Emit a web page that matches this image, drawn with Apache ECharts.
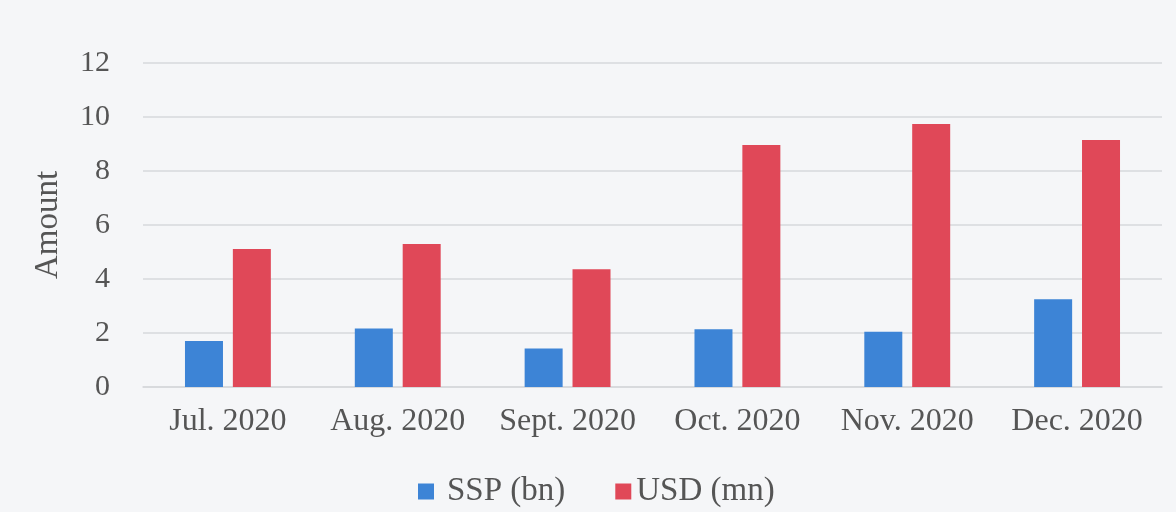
<!DOCTYPE html>
<html>
<head>
<meta charset="utf-8">
<script src="https://cdn.jsdelivr.net/npm/echarts@6/dist/echarts.min.js"></script>
<style>
html,body{margin:0;padding:0;background:#f5f6f8;}
#c{width:1176px;height:512px;}
</style>
</head>
<body>
<div id="c"></div>
<script>
const categories = ['Jul. 2020', 'Aug. 2020', 'Sept. 2020', 'Oct. 2020', 'Nov. 2020', 'Dec. 2020'];
const sspValues = [1.70, 2.17, 1.43, 2.14, 2.05, 3.25];
const usdValues = [5.11, 5.30, 4.36, 8.96, 9.74, 9.15];
const seriesNames = ['SSP (bn)', 'USD (mn)'];

const font = '"Liberation Serif", "Times New Roman", serif';
const chart = echarts.init(document.getElementById('c'));
chart.setOption({
  backgroundColor: '#f5f6f8',
  animation: false,
  grid: { left: 143, right: 14, top: 63, bottom: 125 },
  legend: {
    data: [
      { name: seriesNames[0], textStyle: { padding: [0, 0, 0, 8] } },
      { name: seriesNames[1] }
    ],
    left: 413,
    top: 470,
    itemWidth: 16,
    itemHeight: 16,
    itemGap: 50,
    icon: 'rect',
    textStyle: { fontFamily: font, fontSize: 33, color: '#555' }
  },
  xAxis: {
    type: 'category',
    data: categories,
    axisLine: { lineStyle: { color: '#d6d8dc', width: 1.5 } },
    axisTick: { show: false },
    axisLabel: { interval: 0, fontFamily: font, fontSize: 32, color: '#555', margin: 19 }
  },
  yAxis: {
    type: 'value',
    min: 0, max: 12, interval: 2,
    name: 'Amount',
    nameLocation: 'middle',
    nameGap: 78,
    nameTextStyle: { fontFamily: font, fontSize: 33, color: '#555' },
    axisLine: { show: false },
    axisTick: { show: false },
    axisLabel: { fontFamily: font, fontSize: 30, color: '#555', margin: 33 },
    splitLine: { lineStyle: { color: '#d6d8dc', width: 1.5 } }
  },
  series: [
    { name: seriesNames[0], type: 'bar', data: sspValues, barWidth: 38, barGap: '26%', itemStyle: { color: '#3d84d6' } },
    { name: seriesNames[1], type: 'bar', data: usdValues, barWidth: 38, itemStyle: { color: '#e04858' } }
  ]
});
</script>
</body>
</html>
